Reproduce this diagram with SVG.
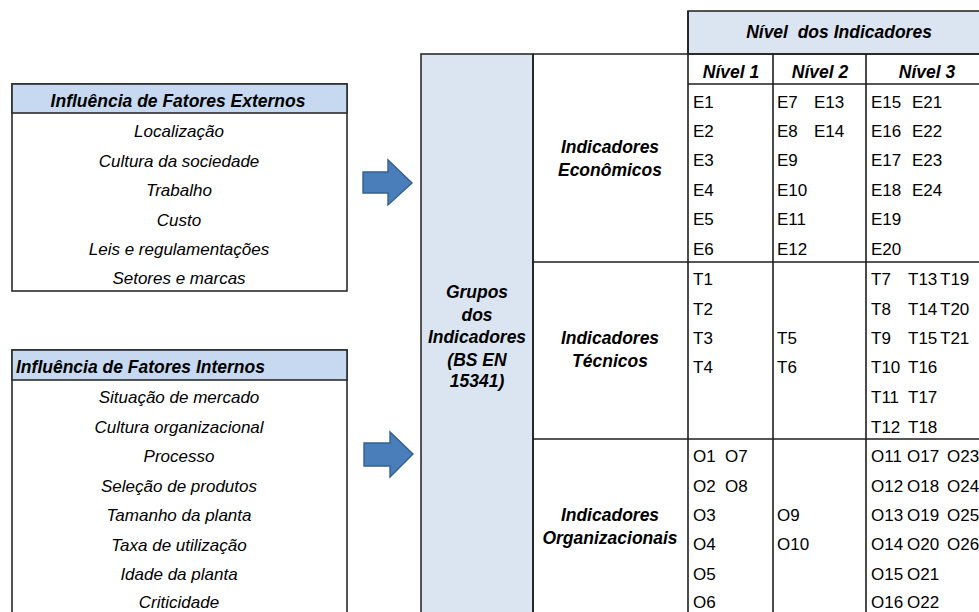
<svg xmlns="http://www.w3.org/2000/svg" width="979" height="612" viewBox="0 0 979 612">
  <style>
    text { font-family: "Liberation Sans", Arial, sans-serif; font-size: 17px; fill: #000; }
    .it { font-style: italic; }
    .bi { font-style: italic; font-weight: bold; font-size: 17.5px; }
    .c { text-anchor: middle; }
    .box { fill: #fff; stroke: #2b2b2b; stroke-width: 1.6; }
    .hdr { fill: #c6d9f0; stroke: #2b2b2b; stroke-width: 1.6; }
    .pale { fill: #dbe5f1; stroke: #2b2b2b; stroke-width: 1.6; }
    .grid { stroke: #1e1e1e; stroke-width: 1.6; fill: none; }
    .arrow { fill: #4a7ebb; stroke: #36608f; stroke-width: 1.4; stroke-linejoin: miter; }
  </style>

  <rect width="979" height="612" fill="#fff"/>

  <!-- External factors -->
  <g id="fatores-externos">
    <rect class="box" x="12" y="84" width="335" height="207"/>
    <rect class="hdr" x="12" y="84" width="335" height="29"/>
    <text class="bi c" x="178" y="107">Influência de Fatores Externos</text>
    <text class="it c" x="179" y="137">Localização</text>
    <text class="it c" x="179" y="167">Cultura da sociedade</text>
    <text class="it c" x="179" y="196">Trabalho</text>
    <text class="it c" x="179" y="226">Custo</text>
    <text class="it c" x="179" y="255">Leis e regulamentações</text>
    <text class="it c" x="179" y="284">Setores e marcas</text>
  </g>

  <!-- Internal factors -->
  <g id="fatores-internos">
    <rect class="box" x="12" y="350" width="335" height="270"/>
    <rect class="hdr" x="12" y="350" width="335" height="30"/>
    <text class="bi" x="16" y="373">Influência de Fatores Internos</text>
    <text class="it c" x="179" y="403">Situação de mercado</text>
    <text class="it c" x="179" y="433">Cultura organizacional</text>
    <text class="it c" x="179" y="462">Processo</text>
    <text class="it c" x="179" y="492">Seleção de produtos</text>
    <text class="it c" x="179" y="521">Tamanho da planta</text>
    <text class="it c" x="179" y="551">Taxa de utilização</text>
    <text class="it c" x="179" y="580">Idade da planta</text>
    <text class="it c" x="179" y="608">Criticidade</text>
  </g>

  <!-- Block arrows -->
  <g id="connectors">
    <polygon class="arrow" points="363,172 388,172 388,160 412,183 388,205 388,193 363,193"/>
    <polygon class="arrow" points="364,443 390,443 390,432 413,454 390,477 390,466 364,466"/>
  </g>

  <!-- Indicator groups column -->
  <g id="grupos">
    <rect class="pale" x="421" y="54" width="112" height="570"/>
    <text class="bi c" x="477" y="298">Grupos</text>
    <text class="bi c" x="477" y="321">dos</text>
    <text class="bi c" x="477" y="343">Indicadores</text>
    <text class="bi c" x="477" y="366">(BS EN</text>
    <text class="bi c" x="477" y="387">15341)</text>
  </g>

  <!-- Level header -->
  <g id="nivel-header">
    <rect class="pale" x="688" y="11" width="300" height="43"/>
    <text class="bi c" x="839" y="38" style="white-space:pre">Nível  dos Indicadores</text>
  </g>

  <!-- Table grid -->
  <g id="grid">
    <line class="grid" x1="533" y1="54" x2="979" y2="54"/>
    <line class="grid" x1="688" y1="84" x2="979" y2="84"/>
    <line class="grid" x1="533" y1="262" x2="979" y2="262"/>
    <line class="grid" x1="533" y1="439" x2="979" y2="439"/>
    <line class="grid" x1="533" y1="54" x2="533" y2="612"/>
    <line class="grid" x1="688" y1="11" x2="688" y2="612"/>
    <line class="grid" x1="773" y1="54" x2="773" y2="612"/>
    <line class="grid" x1="866" y1="54" x2="866" y2="612"/>
  </g>

  <g id="nivel-colunas">
    <text class="bi c" x="731" y="78">Nível 1</text>
    <text class="bi c" x="820" y="78">Nível 2</text>
    <text class="bi c" x="927" y="78">Nível 3</text>
  </g>

  <!-- Economic indicators -->
  <g id="economicos">
    <text class="bi c" x="610" y="153">Indicadores</text>
    <text class="bi c" x="610" y="176">Econômicos</text>
    <text x="693" y="108">E1</text>
    <text x="693" y="137">E2</text>
    <text x="693" y="166">E3</text>
    <text x="693" y="196">E4</text>
    <text x="693" y="225">E5</text>
    <text x="693" y="255">E6</text>
    <text x="777" y="108">E7</text>
    <text x="814" y="108">E13</text>
    <text x="777" y="137">E8</text>
    <text x="814" y="137">E14</text>
    <text x="777" y="166">E9</text>
    <text x="777" y="196">E10</text>
    <text x="777" y="225">E11</text>
    <text x="777" y="255">E12</text>
    <text x="871" y="108">E15</text>
    <text x="912" y="108">E21</text>
    <text x="871" y="137">E16</text>
    <text x="912" y="137">E22</text>
    <text x="871" y="166">E17</text>
    <text x="912" y="166">E23</text>
    <text x="871" y="196">E18</text>
    <text x="912" y="196">E24</text>
    <text x="871" y="225">E19</text>
    <text x="871" y="255">E20</text>
  </g>

  <!-- Technical indicators -->
  <g id="tecnicos">
    <text class="bi c" x="610" y="344">Indicadores</text>
    <text class="bi c" x="610" y="367">Técnicos</text>
    <text x="693" y="285">T1</text>
    <text x="693" y="315">T2</text>
    <text x="693" y="344">T3</text>
    <text x="693" y="373">T4</text>
    <text x="777" y="344">T5</text>
    <text x="777" y="373">T6</text>
    <text x="871" y="285">T7</text>
    <text x="908" y="285">T13</text>
    <text x="940" y="285">T19</text>
    <text x="871" y="315">T8</text>
    <text x="908" y="315">T14</text>
    <text x="940" y="315">T20</text>
    <text x="871" y="344">T9</text>
    <text x="908" y="344">T15</text>
    <text x="940" y="344">T21</text>
    <text x="871" y="373">T10</text>
    <text x="908" y="373">T16</text>
    <text x="871" y="403">T11</text>
    <text x="908" y="403">T17</text>
    <text x="871" y="433">T12</text>
    <text x="908" y="433">T18</text>
  </g>

  <!-- Organisational indicators -->
  <g id="organizacionais">
    <text class="bi c" x="610" y="521">Indicadores</text>
    <text class="bi c" x="610" y="544">Organizacionais</text>
    <text x="693" y="462">O1</text>
    <text x="725" y="462">O7</text>
    <text x="693" y="492">O2</text>
    <text x="725" y="492">O8</text>
    <text x="693" y="521">O3</text>
    <text x="693" y="550">O4</text>
    <text x="693" y="580">O5</text>
    <text x="693" y="608">O6</text>
    <text x="777" y="521">O9</text>
    <text x="777" y="550">O10</text>
    <text x="871" y="462">O11</text>
    <text x="907" y="462">O17</text>
    <text x="947" y="462">O23</text>
    <text x="871" y="492">O12</text>
    <text x="907" y="492">O18</text>
    <text x="947" y="492">O24</text>
    <text x="871" y="521">O13</text>
    <text x="907" y="521">O19</text>
    <text x="947" y="521">O25</text>
    <text x="871" y="550">O14</text>
    <text x="907" y="550">O20</text>
    <text x="947" y="550">O26</text>
    <text x="871" y="580">O15</text>
    <text x="907" y="580">O21</text>
    <text x="871" y="608">O16</text>
    <text x="907" y="608">O22</text>
  </g>
</svg>
